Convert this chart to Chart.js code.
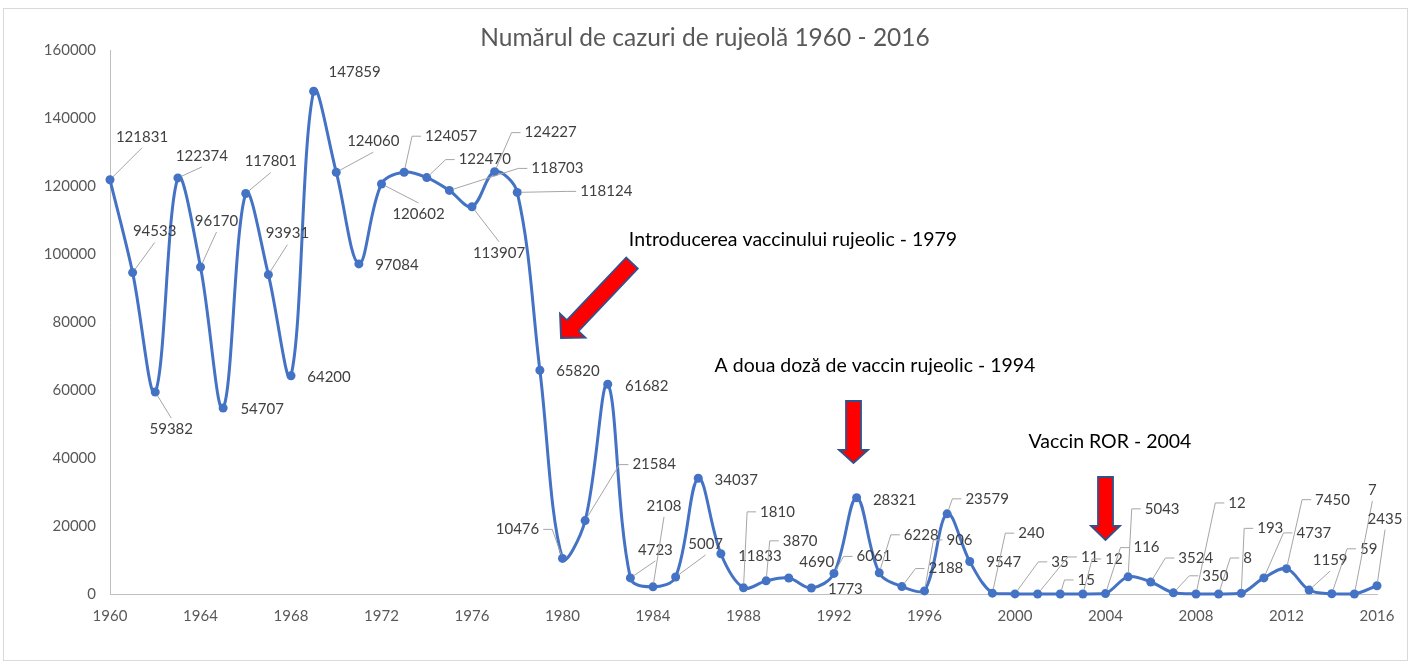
<!DOCTYPE html>
<html lang="ro">
<head>
<meta charset="UTF-8">
<title>Rujeola 1960 - 2016</title>
<script src="https://cdn.jsdelivr.net/npm/chart.js@4"></script>
<style>
  html, body { margin: 0; padding: 0; background: #fff; }
  #cadru { width: 1411px; height: 663px; position: relative; }
</style>
</head>
<body>
<div id="cadru"><canvas id="grafic"></canvas></div>

<script>
// datele graficului
const ani = [1960, 1961, 1962, 1963, 1964, 1965, 1966, 1967, 1968, 1969,
             1970, 1971, 1972, 1973, 1974, 1975, 1976, 1977, 1978, 1979,
             1980, 1981, 1982, 1983, 1984, 1985, 1986, 1987, 1988, 1989,
             1990, 1991, 1992, 1993, 1994, 1995, 1996, 1997, 1998, 1999,
             2000, 2001, 2002, 2003, 2004, 2005, 2006, 2007, 2008, 2009,
             2010, 2011, 2012, 2013, 2014, 2015, 2016];

const cazuri = [121831, 94533, 59382, 122374, 96170, 54707, 117801, 93931, 64200, 147859,
                124060, 97084, 120602, 124057, 122470, 118703, 113907, 124227, 118124, 65820,
                10476, 21584, 61682, 4723, 2108, 5007, 34037, 11833, 1810, 3870,
                4690, 1773, 6061, 28321, 6228, 2188, 906, 23579, 9547, 240,
                35, 11, 15, 12, 116, 5043, 3524, 350, 12, 8,
                193, 4737, 7450, 1159, 59, 7, 2435];

const aniAfisati = [1960, 1964, 1968, 1972, 1976, 1980, 1984, 1988, 1992, 1996, 2000, 2004, 2008, 2012, 2016];
const valoriAxaY = [0, 20000, 40000, 60000, 80000, 100000, 120000, 140000, 160000];

const titlu = 'Numărul de cazuri de rujeolă 1960 - 2016';
const noteText = ['Introducerea vaccinului rujeolic - 1979',
                  'A doua doză de vaccin rujeolic - 1994',
                  'Vaccin ROR - 2004'];

// pozitia etichetelor fata de punct: [dx, dy, linie de legatura]
const pozEtichete = [
  [32,-43,'b'], [22,-41,'b'], [16,37,'t'], [24,-22,'b'], [16,-46,'b'],
  [39,1,''], [25,-32,'b'], [19,-41,'b'], [38,1,''], [41,-19,''],
  [37,-31,'b'], [38,1,''], [37,30,'t'], [47,-36,'l'], [58,-18,'l'],
  [108,-22,'l'], [27,46,'t'], [56,-39,'l'], [89,-1,'l'], [38,1,''],
  [-45,-29,'r'], [69,-56,'l'], [39,2,''], [25,-28,'b'], [11,-81,'b'],
  [30,-33,'b'], [38,2,''], [39,2,''], [34,-76,'l'], [34,-40,'l'],
  [28,-16,''], [34,1,''], [40,-17,'l'], [38,2,''], [42,-38,'l'],
  [44,-18,'l'], [35,-51,'l'], [40,-15,'l'], [34,1,''], [39,-60,'l'],
  [45,-32,'l'], [52,-37,'l'], [26,-14,'l'], [31,-35,'l'], [41,-46,'l'],
  [34,-68,'l'], [45,-24,'l'], [42,-17,'l'], [41,-91,'l'], [29,-36,'l'],
  [29,-65,'l'], [50,-45,'l'], [46,-69,'l'], [21,-30,'b'], [37,-45,'l'],
  [18,-104,'b'], [8,-67,'b']
];

// note si sageti (pixeli in pagina)
const notePoz = [[793, 240], [875, 366], [1110, 442]];
const sageti = [
  { coada: [632, 263], varf: [561, 338], latime: 16, cap: 35, lungCap: 17 },
  { coada: [853.5, 401], varf: [853.5, 463], latime: 15, cap: 29, lungCap: 13 },
  { coada: [1105.5, 477], varf: [1105.5, 540], latime: 15, cap: 29, lungCap: 14 }
];

const albastru = '#4472C4';
const gri = '#595959';

const pluginFundal = {
  id: 'fundal',
  beforeDraw(chart) {
    const ctx = chart.ctx;
    ctx.save();
    ctx.fillStyle = '#fff';
    ctx.fillRect(0, 0, chart.width, chart.height);
    ctx.strokeStyle = '#d9d9d9';
    ctx.lineWidth = 1;
    ctx.strokeRect(3.5, 8.5, 1404, 652);
    ctx.fillStyle = gri;
    ctx.font = '24.5px Lato';
    ctx.textAlign = 'center';
    ctx.textBaseline = 'middle';
    ctx.fillText(titlu, 705, 38);
    ctx.restore();
  }
};

const pluginEtichete = {
  id: 'etichete',
  afterDatasetsDraw(chart) {
    const ctx = chart.ctx;
    const puncte = chart.getDatasetMeta(0).data;
    ctx.save();
    ctx.font = '15px Lato';
    ctx.textAlign = 'center';
    ctx.textBaseline = 'middle';
    puncte.forEach((p, i) => {
      const [dx, dy, mod] = pozEtichete[i];
      const txt = String(cazuri[i]);
      const cx = p.x + dx, cy = p.y + dy;
      const w = ctx.measureText(txt).width, h = 16;
      if (mod) {
        let tx, ty, stub = null;
        if (mod === 'b') { tx = cx; ty = cy + h / 2 + 3; }
        else if (mod === 't') { tx = cx; ty = cy - h / 2 - 3; }
        else if (mod === 'l') { tx = cx - w / 2 - 13; ty = cy; stub = cx - w / 2 - 4; }
        else { tx = cx + w / 2 + 13; ty = cy; stub = cx + w / 2 + 4; }
        const d = Math.hypot(tx - p.x, ty - p.y) || 1;
        ctx.strokeStyle = '#a6a6a6';
        ctx.lineWidth = 1;
        ctx.beginPath();
        ctx.moveTo(p.x + (tx - p.x) / d * 4, p.y + (ty - p.y) / d * 4);
        ctx.lineTo(tx, ty);
        if (stub !== null) ctx.lineTo(stub, ty);
        ctx.stroke();
      }
      ctx.fillStyle = '#404040';
      ctx.fillText(txt, cx, cy);
    });
    ctx.restore();
  }
};

function deseneazaSageata(ctx, s) {
  const [x1, y1] = s.coada, [x2, y2] = s.varf;
  const L = Math.hypot(x2 - x1, y2 - y1);
  const ux = (x2 - x1) / L, uy = (y2 - y1) / L;
  const nx = -uy, ny = ux;
  const bx = x2 - ux * s.lungCap, by = y2 - uy * s.lungCap;
  const a = s.latime / 2, c = s.cap / 2;
  ctx.beginPath();
  ctx.moveTo(x1 + nx * a, y1 + ny * a);
  ctx.lineTo(bx + nx * a, by + ny * a);
  ctx.lineTo(bx + nx * c, by + ny * c);
  ctx.lineTo(x2, y2);
  ctx.lineTo(bx - nx * c, by - ny * c);
  ctx.lineTo(bx - nx * a, by - ny * a);
  ctx.lineTo(x1 - nx * a, y1 - ny * a);
  ctx.closePath();
  ctx.fillStyle = '#ff0000';
  ctx.fill();
  ctx.strokeStyle = '#2f528f';
  ctx.lineWidth = 1.8;
  ctx.lineJoin = 'miter';
  ctx.stroke();
}

const pluginNote = {
  id: 'note',
  afterDraw(chart) {
    const ctx = chart.ctx;
    ctx.save();
    ctx.font = '19.5px Lato';
    ctx.fillStyle = '#000';
    ctx.textAlign = 'center';
    ctx.textBaseline = 'middle';
    noteText.forEach((t, i) => ctx.fillText(t, notePoz[i][0], notePoz[i][1]));
    sageti.forEach(s => deseneazaSageata(ctx, s));
    ctx.restore();
  }
};

new Chart(document.getElementById('grafic'), {
  type: 'line',
  data: {
    labels: ani,
    datasets: [{
      label: 'Cazuri de rujeolă',
      data: cazuri,
      borderColor: albastru,
      backgroundColor: albastru,
      borderWidth: 3,
      tension: 0.35,
      pointRadius: 4.5,
      pointBorderWidth: 0,
      pointBackgroundColor: albastru,
      clip: false
    }]
  },
  options: {
    responsive: true,
    maintainAspectRatio: false,
    animation: false,
    layout: { padding: { left: 0, right: 34, top: 50, bottom: 29 } },
    plugins: {
      legend: { display: false },
      title: { display: false },
      tooltip: { enabled: false }
    },
    scales: {
      x: {
        type: 'category',
        offset: false,
        grid: { display: false, drawTicks: false },
        border: { display: true, color: '#bfbfbf', width: 1 },
        ticks: {
          autoSkip: false,
          maxRotation: 0,
          padding: 13,
          color: gri,
          font: { family: 'Lato', size: 15 },
          callback: (v, i) => aniAfisati.includes(ani[i]) ? String(ani[i]) : ''
        },
        afterFit: s => { s.height = 40; }
      },
      y: {
        min: 0,
        max: 160000,
        grid: { display: false, drawTicks: false },
        border: { display: true, color: '#bfbfbf', width: 1 },
        afterBuildTicks: s => { s.ticks = valoriAxaY.map(v => ({ value: v })); },
        ticks: {
          padding: 14,
          color: gri,
          font: { family: 'Lato', size: 15 },
          callback: v => String(v)
        },
        afterFit: s => { s.width = 110; }
      }
    }
  },
  plugins: [pluginFundal, pluginEtichete, pluginNote]
});
</script>
</body>
</html>
